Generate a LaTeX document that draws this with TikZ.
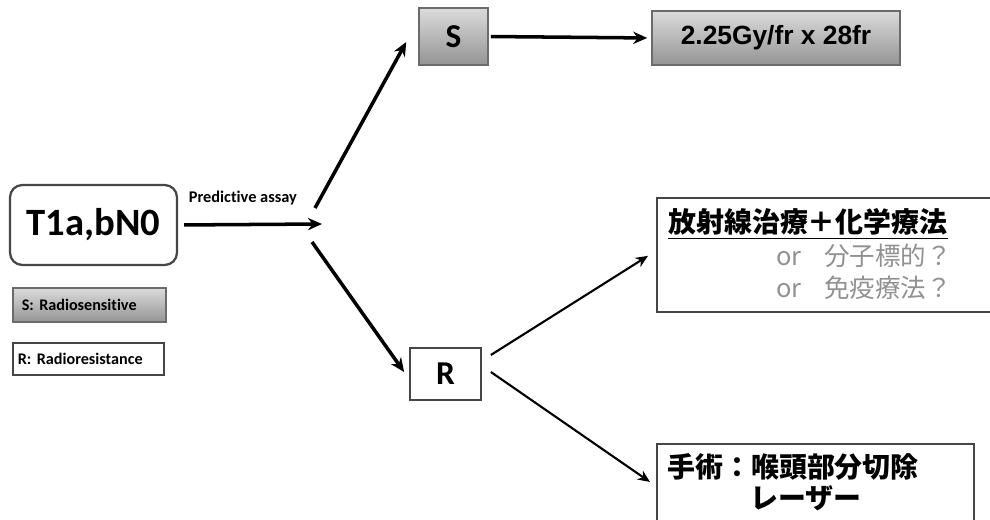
\documentclass[tikz,border=0pt]{standalone}
\usepackage{fontspec}
\setmainfont{Carlito}[Ligatures=NoCommon]
\newfontfamily\jpfont{Noto Sans CJK JP}
\newfontfamily\arialfont{Liberation Sans}
\usepackage{xcolor}
\definecolor{boxgris}{RGB}{70, 70, 70}
\definecolor{textgris}{RGB}{145, 145, 145}
\usetikzlibrary{positioning, calc, shadows, arrows.meta}

\begin{document}
\begin{tikzpicture}[
  x=0.02cm, y=-0.02cm,
  plain/.style={rectangle, draw=boxgris, line width=1pt, fill=white},
  shaded/.style={rectangle, draw=boxgris!80, line width=0.9pt, top color=black!14, bottom color=black!42, drop shadow={opacity=0.25, shadow xshift=0.8pt, shadow yshift=-0.8pt}},
  legend/.style={anchor=west, align=left, font=\fontsize{9.2}{11}\selectfont\bfseries},
  jpline/.style={inner sep=0pt, font=\jpfont\fontsize{15.9}{19}\selectfont\bfseries},
  jpgray/.style={inner sep=0pt, anchor=base east, text=textgris, font=\jpfont\fontsize{14.5}{17}\selectfont},
  arrow/.style={-{Stealth[length=8pt, width=7pt]}, line width=2pt},
  thinarrow/.style={-{Stealth[length=7pt, width=6pt]}, line width=1.2pt}
]
\useasboundingbox (0,0) rectangle (990,520);
% Left column
\node[plain, rounded corners=7pt, line width=1.3pt, minimum width=3.34cm, minimum height=1.6cm, font=\fontsize{22}{26}\selectfont\bfseries] (t1) at (93.5,225) {T1a,bN0};
\node[shaded, legend, text width=2.7cm, inner xsep=0.18cm, minimum height=0.68cm] (legs) at (12,305) {S: Radiosensitive};
\node[plain, legend, text width=2.82cm, inner xsep=0.1cm, minimum height=0.64cm] (legr) at (12,359) {R: Radioresistance};
% Middle column
\node[shaded, minimum width=1.38cm, minimum height=1.14cm, font=\fontsize{19}{22}\selectfont\bfseries] (s) at (453.5,36.5) {S};
\node[plain, minimum width=1.42cm, minimum height=1.04cm, font=\fontsize{19}{22}\selectfont\bfseries] (r) at (445.5,374) {R};
\coordinate (fork) at (322,224);
\coordinate (forkup) at (315,208);
\coordinate (forkdown) at (312,242);
% Right column
\node[shaded, minimum width=4.96cm, minimum height=1.08cm, font=\arialfont\fontsize{15}{18}\selectfont\bfseries] (dose) at (776,38) {2.25Gy/fr x 28fr};
\node[plain, anchor=north west, minimum width=7cm, minimum height=2.28cm] (chemo) at (656,197) {};
\node[jpline, anchor=base east] (chemo1) at (948,233) {\underline{放射線治療＋化学療法}};
\node[jpgray] (chemo2) at (952,265) {or\hspace{0.9em}分子標的？};
\node[jpgray] (chemo3) at (952,297) {or\hspace{0.9em}免疫療法？};
\node[plain, anchor=north west, minimum width=6.34cm, minimum height=2cm] (surg) at (656,443) {};
\node[jpline, anchor=base west] (surg1) at (667,477) {手術：喉頭部分切除};
\node[jpline, anchor=base west] (surg2) at (750,508) {レーザー};
% Arrows
\draw[arrow, shorten <=0.12cm] (t1.east) -- (fork)
  node (assay) [pos=0.45, above=7pt, font=\fontsize{9.3}{11}\selectfont\bfseries] {Predictive assay};
\draw[arrow] (forkup) -- ($(s.west)+(-12,5.5)$);
\draw[arrow] (forkdown) -- ($(r.west)+(-5,-2)$);
\draw[arrow, shorten <=0.04cm, shorten >=0.08cm] (s.east) -- (dose.west);
\draw[thinarrow] ($(r.east)+(9,-19)$) -- ($(chemo.west)+(-8,1)$);
\draw[thinarrow] ($(r.east)+(9,-2)$) -- ($(surg.north west)+(-6,39)$);
\end{tikzpicture}
\end{document}
